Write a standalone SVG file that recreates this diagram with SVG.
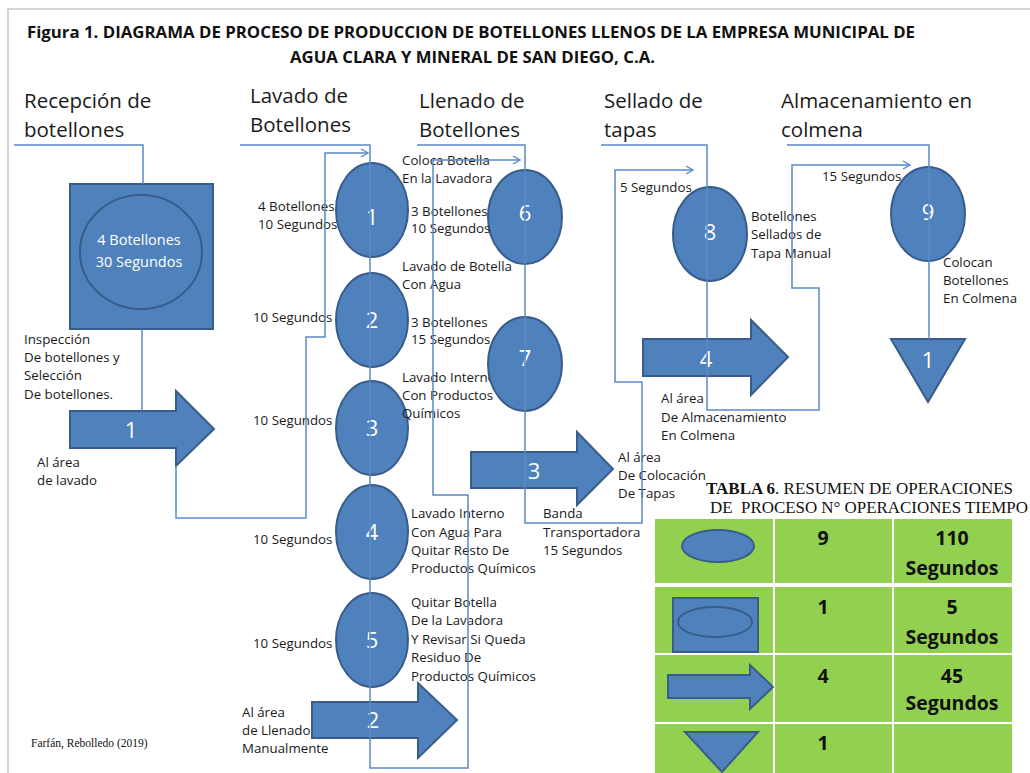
<svg xmlns="http://www.w3.org/2000/svg" width="1030" height="773" viewBox="0 0 1030 773">
<defs>
<style>
.sh{fill:#4f81bd;stroke:#385d8a;stroke-width:2}
.in{fill:none;stroke:#385d8a;stroke-width:2}
.cn{fill:none;stroke:#5a8ac6;stroke-width:1.5}
.lb{font-family:"Open Sans","Liberation Sans",sans-serif;font-size:13.3px;fill:#1a1a1a}
.hd{font-family:"Open Sans","Liberation Sans",sans-serif;font-size:20.5px;fill:#1a1a1a}
.num{font-family:"Open Sans","Liberation Sans",sans-serif;font-size:22px;fill:#ffffff;text-anchor:middle}
.wt{font-family:"Open Sans","Liberation Sans",sans-serif;font-size:14.5px;fill:#ffffff;text-anchor:middle}
.tb{font-family:"Open Sans","Liberation Sans",sans-serif;font-size:19.5px;font-weight:bold;fill:#111;text-anchor:middle}
.cell{fill:#92d050}
.tt{font-family:"Liberation Serif","Times New Roman",serif;font-size:16px;fill:#111}
</style>
<marker id="ah" markerWidth="10" markerHeight="10" refX="8" refY="5" orient="auto" markerUnits="userSpaceOnUse">
<path d="M1,1 L8,5 L1,9" fill="none" stroke="#5a8ac6" stroke-width="1.4"/>
</marker>
</defs>
<rect x="0" y="0" width="1030" height="773" fill="#ffffff"/>
<path d="M8,773 V9 H1030" fill="none" stroke="#c8c8c8" stroke-width="1.5"/>

<g id="title">
<text x="27" y="38" font-family="Open Sans, Liberation Sans, sans-serif" font-size="16" font-weight="bold" fill="#111" textLength="888" lengthAdjust="spacingAndGlyphs">Figura 1. DIAGRAMA DE PROCESO DE PRODUCCION DE BOTELLONES LLENOS DE LA EMPRESA MUNICIPAL DE</text>
<text x="290" y="63" font-family="Open Sans, Liberation Sans, sans-serif" font-size="16" font-weight="bold" fill="#111" textLength="365" lengthAdjust="spacingAndGlyphs">AGUA CLARA Y MINERAL DE SAN DIEGO, C.A.</text>
</g>

<g id="headers">
<text class="hd" x="24" y="108">Recepción de</text>
<text class="hd" x="24" y="137">botellones</text>
<text class="hd" x="250" y="103">Lavado de</text>
<text class="hd" x="250" y="132">Botellones</text>
<text class="hd" x="419" y="108">Llenado de</text>
<text class="hd" x="419" y="137">Botellones</text>
<text class="hd" x="604" y="108">Sellado de</text>
<text class="hd" x="604" y="137">tapas</text>
<text class="hd" x="781" y="108">Almacenamiento en</text>
<text class="hd" x="781" y="137">colmena</text>
</g>

<g id="inspeccion">
<rect class="sh" x="70" y="184" width="143" height="145"/>
<ellipse class="in" cx="141" cy="252" rx="61" ry="57"/>
<text class="wt" x="139" y="245">4 Botellones</text>
<text class="wt" x="139" y="267">30 Segundos</text>
<text class="lb" x="24" y="344">Inspección</text>
<text class="lb" x="24" y="362">De botellones y</text>
<text class="lb" x="24" y="380">Selección</text>
<text class="lb" x="24" y="399">De botellones.</text>
</g>

<g id="transporte1">
<path class="sh" d="M70,411 H176 V391 L214,429 L176,466 V448 H70 Z"/>
<text class="num" x="131" y="438">1</text>
<text class="lb" x="37" y="467">Al área</text>
<text class="lb" x="37" y="485">de lavado</text>
</g>

<g id="op1">
<ellipse class="sh" cx="372" cy="210" rx="36" ry="47"/>
<text class="num" x="372" y="225">1</text>
<text class="lb" x="258" y="211">4 Botellones</text>
<text class="lb" x="258" y="229">10 Segundos</text>
<text class="lb" x="402" y="165">Coloca Botella</text>
<text class="lb" x="402" y="183">En la Lavadora</text>
</g>
<g id="op2">
<ellipse class="sh" cx="372" cy="320" rx="36" ry="47"/>
<text class="num" x="372" y="328">2</text>
<text class="lb" x="253" y="322">10 Segundos</text>
<text class="lb" x="402" y="271">Lavado de Botella</text>
<text class="lb" x="402" y="289">Con Agua</text>
</g>
<g id="op3">
<ellipse class="sh" cx="372" cy="428" rx="36" ry="47"/>
<text class="num" x="372" y="436">3</text>
<text class="lb" x="253" y="425">10 Segundos</text>
<text class="lb" x="402" y="382">Lavado Interno</text>
<text class="lb" x="402" y="400">Con Productos</text>
<text class="lb" x="402" y="418">Químicos</text>
</g>
<g id="op4">
<ellipse class="sh" cx="372" cy="532" rx="36" ry="47"/>
<text class="num" x="372" y="540">4</text>
<text class="lb" x="253" y="544">10 Segundos</text>
<text class="lb" x="411" y="518">Lavado Interno</text>
<text class="lb" x="411" y="537">Con Agua Para</text>
<text class="lb" x="411" y="555">Quitar Resto De</text>
<text class="lb" x="411" y="573">Productos Químicos</text>
</g>
<g id="op5">
<ellipse class="sh" cx="372" cy="640" rx="36" ry="47"/>
<text class="num" x="372" y="648">5</text>
<text class="lb" x="253" y="648">10 Segundos</text>
<text class="lb" x="411" y="607">Quitar Botella</text>
<text class="lb" x="411" y="625">De la Lavadora</text>
<text class="lb" x="411" y="644">Y Revisar Si Queda</text>
<text class="lb" x="411" y="662">Residuo De</text>
<text class="lb" x="411" y="681">Productos Químicos</text>
</g>

<g id="transporte2">
<path class="sh" d="M312,702 H418 V683 L457,720 L418,758 V738 H312 Z"/>
<text class="num" x="373" y="728">2</text>
<text class="lb" x="242" y="717">Al área</text>
<text class="lb" x="242" y="735">de Llenado</text>
<text class="lb" x="242" y="753">Manualmente</text>
</g>

<g id="op6">
<ellipse class="sh" cx="525" cy="217" rx="37" ry="47"/>
<text class="num" x="525" y="221">6</text>
<text class="lb" x="411" y="216">3 Botellones</text>
<text class="lb" x="411" y="233">10 Segundos</text>
</g>
<g id="op7">
<ellipse class="sh" cx="525" cy="364" rx="37" ry="47"/>
<text class="num" x="525" y="366">7</text>
<text class="lb" x="411" y="327">3 Botellones</text>
<text class="lb" x="411" y="344">15 Segundos</text>
</g>

<g id="transporte3">
<path class="sh" d="M471,452 H577 V432 L613,469 L577,505 V488 H471 Z"/>
<text class="num" x="534" y="479">3</text>
<text class="lb" x="618" y="462">Al área</text>
<text class="lb" x="618" y="480">De Colocación</text>
<text class="lb" x="618" y="498">De Tapas</text>
<text class="lb" x="543" y="518">Banda</text>
<text class="lb" x="543" y="537">Transportadora</text>
<text class="lb" x="543" y="555">15 Segundos</text>
</g>

<g id="op8">
<ellipse class="sh" cx="710" cy="234" rx="37" ry="47"/>
<text class="num" x="710" y="240">8</text>
<text class="lb" x="620" y="192">5 Segundos</text>
<text class="lb" x="751" y="221">Botellones</text>
<text class="lb" x="751" y="239">Sellados de</text>
<text class="lb" x="751" y="258">Tapa Manual</text>
</g>

<g id="transporte4">
<path class="sh" d="M643,339 H751 V320 L788,357 L751,395 V376 H643 Z"/>
<text class="num" x="706" y="367">4</text>
<text class="lb" x="661" y="403">Al área</text>
<text class="lb" x="661" y="422">De Almacenamiento</text>
<text class="lb" x="661" y="440">En Colmena</text>
</g>

<g id="op9">
<ellipse class="sh" cx="928" cy="214" rx="37" ry="47"/>
<text class="num" x="928" y="220">9</text>
<text class="lb" x="822" y="181">15 Segundos</text>
<text class="lb" x="943" y="267">Colocan</text>
<text class="lb" x="943" y="285">Botellones</text>
<text class="lb" x="943" y="303">En Colmena</text>
</g>

<g id="almacen1">
<path class="sh" d="M891,339 H965 L928,402 Z"/>
<text class="num" x="928" y="368">1</text>
</g>

<g id="connectors">
<path class="cn" d="M14,145 H143 V184"/>
<path class="cn" d="M142,329 V411"/>
<path class="cn" d="M176,466 V518 H306 V337 H325 V153 H368" marker-end="url(#ah)"/>
<path class="cn" d="M240,145 H370 V768 H468 V495 H433 V160 H520" marker-end="url(#ah)"/>
<path class="cn" d="M417,145 H525 V523 H642 V382 H615 V170 H693" marker-end="url(#ah)"/>
<path class="cn" d="M601,145 H707 V410 H819 V288 H792 V165 H910" marker-end="url(#ah)"/>
<path class="cn" d="M787,145 H929 V339"/>
</g>

<g id="tabla">
<text class="tt" x="706" y="494" textLength="307" lengthAdjust="spacingAndGlyphs"><tspan font-weight="bold">TABLA 6</tspan>. RESUMEN DE OPERACIONES</text>
<text class="tt" x="710" y="513" textLength="318" lengthAdjust="spacingAndGlyphs" xml:space="preserve">DE  PROCESO N° OPERACIONES TIEMPO</text>
<rect class="cell" x="655" y="519" width="118" height="64"/>
<rect class="cell" x="775" y="519" width="117" height="64"/>
<rect class="cell" x="894" y="519" width="118" height="64"/>
<rect class="cell" x="655" y="587" width="118" height="66"/>
<rect class="cell" x="775" y="587" width="117" height="66"/>
<rect class="cell" x="894" y="587" width="118" height="66"/>
<rect class="cell" x="655" y="655" width="118" height="67"/>
<rect class="cell" x="775" y="655" width="117" height="67"/>
<rect class="cell" x="894" y="655" width="118" height="67"/>
<rect class="cell" x="655" y="724" width="118" height="49"/>
<rect class="cell" x="775" y="724" width="117" height="49"/>
<rect class="cell" x="894" y="724" width="118" height="49"/>
<ellipse class="sh" cx="718" cy="546" rx="36" ry="16"/>
<rect class="sh" x="673" y="598" width="85" height="54"/>
<ellipse class="in" cx="715" cy="622" rx="37" ry="15"/>
<path class="sh" d="M668,675 H750 V665 L773,687 L750,709 V698 H668 Z"/>
<path class="sh" d="M685,732 H758 L722,772 Z"/>
<text class="tb" x="823" y="545">9</text>
<text class="tb" x="952" y="545">110</text>
<text class="tb" x="952" y="575">Segundos</text>
<text class="tb" x="823" y="614">1</text>
<text class="tb" x="952" y="614">5</text>
<text class="tb" x="952" y="644">Segundos</text>
<text class="tb" x="823" y="683">4</text>
<text class="tb" x="952" y="683">45</text>
<text class="tb" x="952" y="710">Segundos</text>
<text class="tb" x="823" y="750">1</text>
</g>

<g id="fuente">
<text x="31" y="747" font-family="Liberation Serif, Times New Roman, serif" font-size="11.5" fill="#111">Farfán, Rebolledo (2019)</text>
</g>
</svg>
